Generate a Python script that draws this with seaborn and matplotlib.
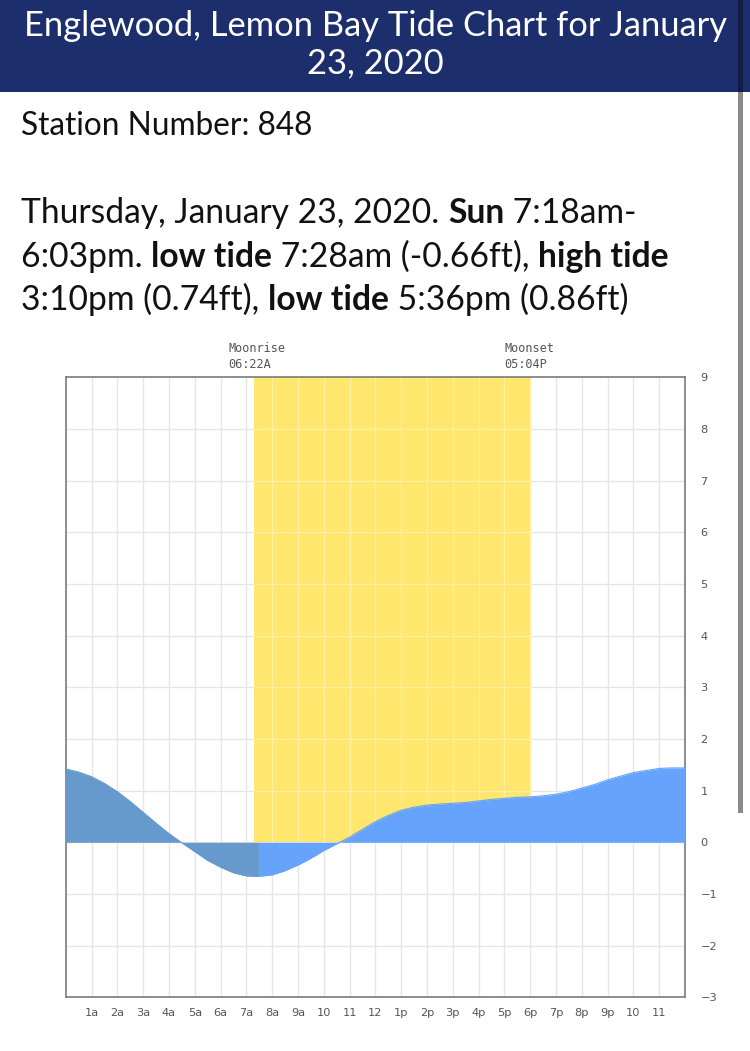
import numpy as np
import pandas as pd
import seaborn as sns
import matplotlib
matplotlib.use("Agg")
import matplotlib.pyplot as plt
from matplotlib.patches import Rectangle

# ---------------- data ----------------
TITLE_LINES = ["Englewood, Lemon Bay Tide Chart for January", "23, 2020"]
STATION = "Station Number: 848"
PARA = [
    [("Thursday, January 23, 2020. ", False), ("Sun", True), (" 7:18am-", False)],
    [("6:03pm. ", False), ("low tide", True), (" 7:28am (-0.66ft), ", False), ("high tide", True)],
    [("3:10pm (0.74ft), ", False), ("low tide", True), (" 5:36pm (0.86ft)", False)],
]

hours = [0, 0.5, 1, 1.5, 2, 2.5, 3, 3.5, 4, 4.5, 5, 5.5, 6, 6.5, 7, 7.47, 8, 8.5, 9, 9.5,
         10, 10.5, 11, 11.5, 12, 12.5, 13, 13.5, 14, 14.5, 15, 15.5, 16, 16.5, 17, 17.5,
         18, 18.5, 19, 19.5, 20, 20.5, 21, 21.5, 22, 22.5, 23, 23.5, 24]
tide = [1.42, 1.36, 1.27, 1.14, 0.98, 0.79, 0.58, 0.37, 0.17, -0.01, -0.18, -0.35, -0.48,
        -0.59, -0.65, -0.66, -0.63, -0.55, -0.44, -0.31, -0.16, -0.03, 0.10, 0.25, 0.40,
        0.52, 0.62, 0.68, 0.72, 0.74, 0.755, 0.77, 0.80, 0.83, 0.85, 0.87, 0.88, 0.90,
        0.93, 0.98, 1.05, 1.12, 1.21, 1.28, 1.35, 1.39, 1.43, 1.44, 1.44]

SUNRISE = 7.30      # 7:18am
SUNSET = 18.05      # 6:03pm
FIRST_LOW = 7.47    # 7:28am
MOON_EVENTS = [(6.37, "Moonrise", "06:22A"), (17.07, "Moonset", "05:04P")]
x_ticks = list(range(1, 24))
x_tick_labels = ["1a", "2a", "3a", "4a", "5a", "6a", "7a", "8a", "9a", "10", "11", "12",
                 "1p", "2p", "3p", "4p", "5p", "6p", "7p", "8p", "9p", "10", "11"]
y_ticks = list(range(-3, 10))

df = pd.DataFrame({"hour": hours, "tide": tide})

# ---------------- styling ----------------
W, H, DPI = 750, 1051, 100
sns.set_style("white")
plt.rcParams["font.family"] = ["Lato", "DejaVu Sans"]

fig = plt.figure(figsize=(W / DPI, H / DPI), dpi=DPI)
fig.patch.set_facecolor("white")
renderer = fig.canvas.get_renderer()

def px(x, y):
    return x / W, 1 - y / H

# header band
fig.patches.append(Rectangle((0, 1 - 92 / H), 1, 92 / H, transform=fig.transFigure,
                             facecolor="#1c2e6b", edgecolor="none", zorder=0))
# scrollbar
fig.patches.append(Rectangle(px(738, 92), 5 / W, 92 / H, transform=fig.transFigure,
                             facecolor="#121c45", edgecolor="none", zorder=1))
fig.patches.append(Rectangle(px(738, 813), 5 / W, (813 - 92) / H, transform=fig.transFigure,
                             facecolor="#8a8a8a", edgecolor="none", zorder=1))

def text_width(s, size, bold=False):
    t = fig.text(0, 0, "|" + s + "|", fontsize=size, fontweight="bold" if bold else "normal")
    w1 = t.get_window_extent(renderer).width
    t.remove()
    t = fig.text(0, 0, "||", fontsize=size, fontweight="bold" if bold else "normal")
    w0 = t.get_window_extent(renderer).width
    t.remove()
    return w1 - w0

def fit_size(segments, target):
    ref = 20.0
    w = sum(text_width(s, ref, b) for s, b in segments)
    return ref * target / w

# title
title_size = fit_size([(TITLE_LINES[0], False)], 704)
for line, base in zip(TITLE_LINES, [36, 73]):
    fig.text(*px(375, base), line, color="white", fontsize=title_size,
             ha="center", va="baseline")

# station
st_size = fit_size([(STATION, False)], 292)
fig.text(*px(21, 135), STATION, color="#111111", fontsize=st_size, va="baseline")

# paragraph
p_size = fit_size(PARA[1], 648)
for segs, base in zip(PARA, [223, 267, 310]):
    x = 21.0
    for s, b in segs:
        fig.text(*px(x, base), s, color="#111111", fontsize=p_size,
                 fontweight="bold" if b else "normal", va="baseline")
        x += text_width(s, p_size, b)

# ---------------- chart ----------------
L, R, T, B = 65.7, 685.0, 377.3, 997.3
ax = fig.add_axes([L / W, 1 - B / H, (R - L) / W, (B - T) / H])
ax.set_xlim(0, 24)
ax.set_ylim(-3, 9)

# grid (grey on white)
ax.vlines(range(1, 24), -3, 9, color="#e6e6e6", lw=1.0, zorder=1)
ax.hlines(range(-2, 9), 0, 24, color="#e6e6e6", lw=1.0, zorder=1)

# daylight band
ax.fill_between([SUNRISE, SUNSET], 0, 9, color="#ffe66c", lw=0, zorder=2)
# paler grid lines over the daylight band
in_day = [h for h in range(1, 24) if SUNRISE < h < SUNSET]
ax.vlines(in_day, 0, 9, color="#fff0a6", lw=1.0, zorder=2.5)
ax.hlines(range(1, 9), SUNRISE, SUNSET, color="#fff0a6", lw=1.0, zorder=2.5)

x = np.array(hours)
y = np.array(tide)
ax.fill_between(x, 0, y, where=x <= FIRST_LOW, color="#6699cc", lw=0, zorder=3)
ax.fill_between(x, 0, y, where=x >= FIRST_LOW, color="#66a3fc", lw=0, zorder=3)
sns.lineplot(data=df[df.hour <= FIRST_LOW], x="hour", y="tide", ax=ax, color="#6699cc",
             lw=0.8, zorder=4)
sns.lineplot(data=df[df.hour >= FIRST_LOW], x="hour", y="tide", ax=ax, color="#66a3fc",
             lw=0.8, zorder=4)

for sp in ax.spines.values():
    sp.set_color("#7a7a7a")
    sp.set_linewidth(1.2)
    sp.set_visible(True)

ax.set_xticks(x_ticks)
ax.set_xticklabels(x_tick_labels, fontsize=8.2, color="#555555", family="DejaVu Sans")
ax.set_yticks(y_ticks)
ax.set_yticklabels([str(v).replace("-", "\u2212") for v in y_ticks], fontsize=8.2,
                   color="#555555", family="DejaVu Sans")
ax.yaxis.tick_right()
ax.tick_params(axis="both", length=0)
ax.tick_params(axis="x", pad=8)
ax.tick_params(axis="y", pad=11)
ax.set_xlabel("")
ax.set_ylabel("")

for hr, lab1, lab2 in MOON_EVENTS:
    ax.annotate(lab1, xy=(hr, 9), xycoords="data", xytext=(-2, 25), textcoords="offset pixels",
                fontsize=8.6, family="DejaVu Sans Mono", color="#555555", va="baseline",
                annotation_clip=False)
    ax.annotate(lab2, xy=(hr, 9), xycoords="data", xytext=(-2, 9), textcoords="offset pixels",
                fontsize=8.6, family="DejaVu Sans Mono", color="#555555", va="baseline",
                annotation_clip=False)

fig.savefig("out.png", dpi=DPI, facecolor="white")
